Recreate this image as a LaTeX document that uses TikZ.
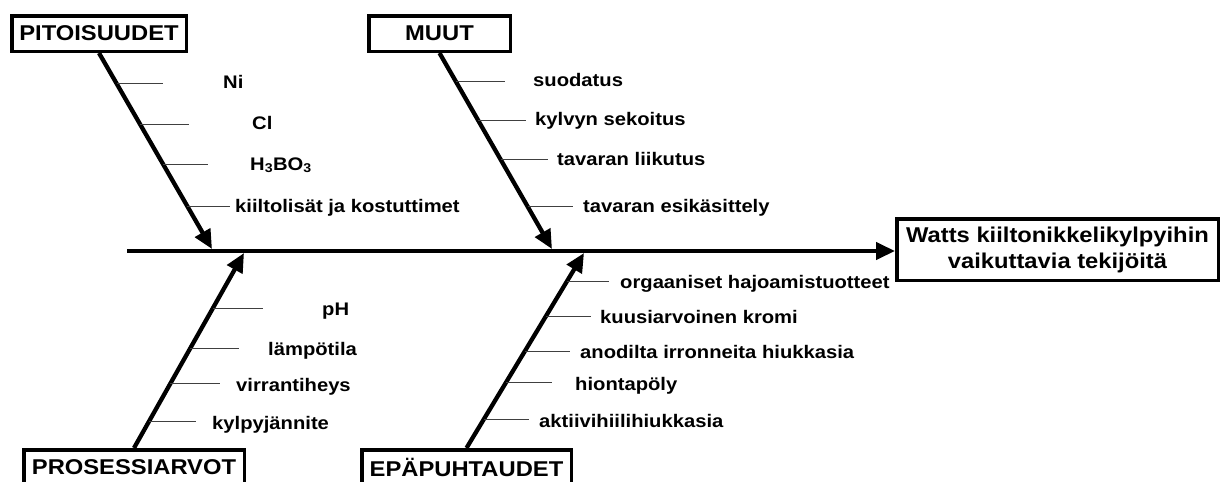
\documentclass[tikz,border=0pt]{standalone}
\usepackage{fontspec}
\setmainfont[FakeStretch=1.11]{Liberation Sans}
\usetikzlibrary{arrows.meta,positioning,calc}

\begin{document}
\begin{tikzpicture}[x=1pt,y=-1pt,
  cat/.style={draw,line width=3.5pt,font=\fontsize{21.4}{26}\selectfont\bfseries,
    minimum width=#1,minimum height=35.5pt,inner sep=0pt},
  bone/.style={line width=4.3pt,-{Triangle[length=19pt,width=17pt]}},
  rib/.style={line width=1.2pt,black!75},
  lbl/.style={anchor=base west,inner sep=0pt,font=\fontsize{18.2}{21}\selectfont\bfseries}]
\clip (0,0) rectangle (1227,482);
% effect and spine
\node[cat=321.5pt,minimum height=61.5pt,align=center] (effect) at (1057.5,249.5)
  {Watts kiiltonikkelikylpyihin\\vaikuttavia tekijöitä};
\coordinate (tail) at (127,251);
\draw[bone] (tail) -- (tail -| effect.west);
% categories
\node[cat=174.5pt] (pit) at (99,33.5) {PITOISUUDET};
\node[cat=141.5pt] (muut) at (439.5,33.5) {MUUT};
\node[cat=220.5pt] (pros) at (134,467.5) {PROSESSIARVOT};
\node[cat=209.5pt] (epa) at (466.5,467.5) {EPÄPUHTAUDET};
\coordinate (pitTip) at (212,249);
\coordinate (muutTip) at (552,249);
\coordinate (prosTip) at (244,253);
\coordinate (epaTip) at (584,253);
\draw[bone] (pit.south) -- (pitTip);
\draw[bone] (muut.south) -- (muutTip);
\draw[bone] (pros.north) -- (prosTip);
\draw[bone] (epa.north) -- (epaTip);
% causes above the spine
\foreach \y/\len/\lx/\txt [count=\i] in {82/46/223/Ni, 123/49/252/Cl,
    164/45/250/{H\textsubscript{3}BO\textsubscript{3}}, 206/43/235/kiiltolisät ja kostuttimet}{
  \draw[rib] ($(pit.south)!{(\y-51.25)/197.75}!(pitTip)$) -- ++(\len,0);
  \node[lbl] (pit-\i) at (\lx,\y+6) {\txt};
}
\foreach \y/\len/\lx/\txt [count=\i] in {80/49/533/suodatus, 119/48/535/kylvyn sekoitus,
    159/47/557/tavaran liikutus, 206/45/583/tavaran esikäsittely}{
  \draw[rib] ($(muut.south)!{(\y-51.25)/197.75}!(muutTip)$) -- ++(\len,0);
  \node[lbl] (muut-\i) at (\lx,\y+6) {\txt};
}
% causes below the spine
\foreach \y/\len/\lx/\txt [count=\i] in {309/50/322/pH, 349/49/268/lämpötila,
    385/50/236/virrantiheys, 423/47/212/kylpyjännite}{
  \draw[rib] ($(pros.north)!{(449.75-\y)/196.75}!(prosTip)$) -- ++(\len,0);
  \node[lbl] (pros-\i) at (\lx,\y+6) {\txt};
}
\foreach \y/\len/\lx/\txt [count=\i] in {282/42/620/orgaaniset hajoamistuotteet,
    317/45/600/kuusiarvoinen kromi, 352/45/580/anodilta irronneita hiukkasia,
    384/46/575/hiontapöly, 421/45/539/aktiivihiilihiukkasia}{
  \draw[rib] ($(epa.north)!{(449.75-\y)/196.75}!(epaTip)$) -- ++(\len,0);
  \node[lbl] (epa-\i) at (\lx,\y+6) {\txt};
}
\end{tikzpicture}
\end{document}
